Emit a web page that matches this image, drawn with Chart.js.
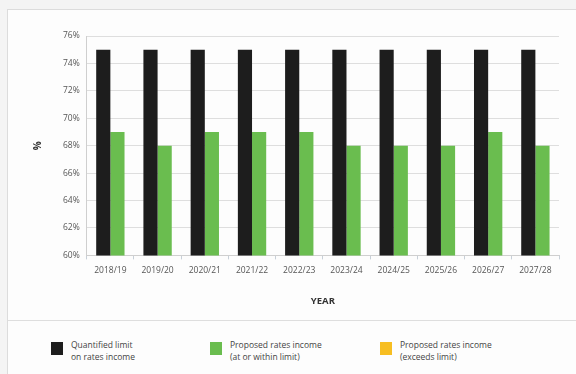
<!DOCTYPE html>
<html>
<head>
<meta charset="utf-8">
<script src="https://cdn.jsdelivr.net/npm/chart.js@4"></script>
<style>
  body { margin: 0; background: #f4f4f4; font-family: "Open Sans", sans-serif; }
  #frame { position: absolute; left: 7px; top: 9px; width: 569px; height: 365px;
           background: #fdfdfd; border-left: 1.5px solid #dcdcdc; border-top: 1.5px solid #dcdcdc; }
  #wrap { position: absolute; left: 0; top: 0; width: 569px; height: 310px; }
  #sep { position: absolute; left: 0; top: 310px; width: 569px; border-top: 1.5px solid #dedede; }
  .item { position: absolute; top: 329px; font-size: 8.5px; line-height: 12px; color: #444; }
  .box { position: absolute; width: 12px; height: 13px; left: -20px; top: 3px; }
</style>
</head>
<body>
<div id="frame">
  <div id="wrap"><canvas id="chart"></canvas></div>
  <div id="sep"></div>
  <div id="legend"></div>
</div>
<script>
/* Data */
const years = ["2018/19", "2019/20", "2020/21", "2021/22", "2022/23",
               "2023/24", "2024/25", "2025/26", "2026/27", "2027/28"];
const limitValues = [75, 75, 75, 75, 75, 75, 75, 75, 75, 75];
const proposedValues = [69, 68, 69, 69, 69, 68, 68, 68, 69, 68];
const yTicks = [60, 62, 64, 66, 68, 70, 72, 74, 76];
const legendLabels = [
  ["Quantified limit", "on rates income"],
  ["Proposed rates income", "(at or within limit)"],
  ["Proposed rates income", "(exceeds limit)"]
];
const legendColors = ["#1d1d1d", "#6abd4f", "#f7be22"];
const legendLeft = [63, 222, 392];

/* Legend */
const legend = document.getElementById("legend");
legendLabels.forEach((lines, i) => {
  legend.innerHTML += `
    <div class="item" style="left:${legendLeft[i]}px">
      <div class="box" style="background:${legendColors[i]}"></div>
      ${lines.join("<br>")}
    </div>`;
});

/* Chart */
const tickFont = { family: "Open Sans", size: 8.5 };

new Chart(document.getElementById("chart"), {
  type: "bar",
  data: {
    labels: years,
    datasets: [
      { label: "Quantified limit on rates income", data: limitValues,
        backgroundColor: legendColors[0] },
      { label: "Proposed rates income (at or within limit)", data: proposedValues,
        backgroundColor: legendColors[1] }
    ]
  },
  options: {
    responsive: true,
    maintainAspectRatio: false,
    animation: false,
    layout: { padding: { left: 20, right: 18, top: 26, bottom: 9 } },
    plugins: { legend: { display: false }, tooltip: { enabled: false } },
    datasets: { bar: { categoryPercentage: 0.6, barPercentage: 1 } },
    scales: {
      x: {
        grid: { display: true, drawOnChartArea: false, tickLength: 4, color: "#c8d0d8" },
        border: { color: "#cfcfcf" },
        ticks: { font: tickFont, color: "#555", padding: 6 },
        title: { display: true, text: "YEAR", color: "#333",
                 font: { family: "Open Sans", size: 9.5, weight: "bold" }, padding: { top: 14 } }
      },
      y: {
        min: 60, max: 76,
        afterBuildTicks: s => { s.ticks = yTicks.map(v => ({ value: v })); },
        grid: { color: "#dedede", drawTicks: false },
        border: { color: "#cfcfcf" },
        ticks: { font: tickFont, color: "#555", padding: 7, callback: v => v + "%" },
        title: { display: true, text: "%", color: "#333",
                 font: { family: "Open Sans", size: 10, weight: "bold" }, padding: { bottom: 12 } }
      }
    }
  }
});
</script>
</body>
</html>
